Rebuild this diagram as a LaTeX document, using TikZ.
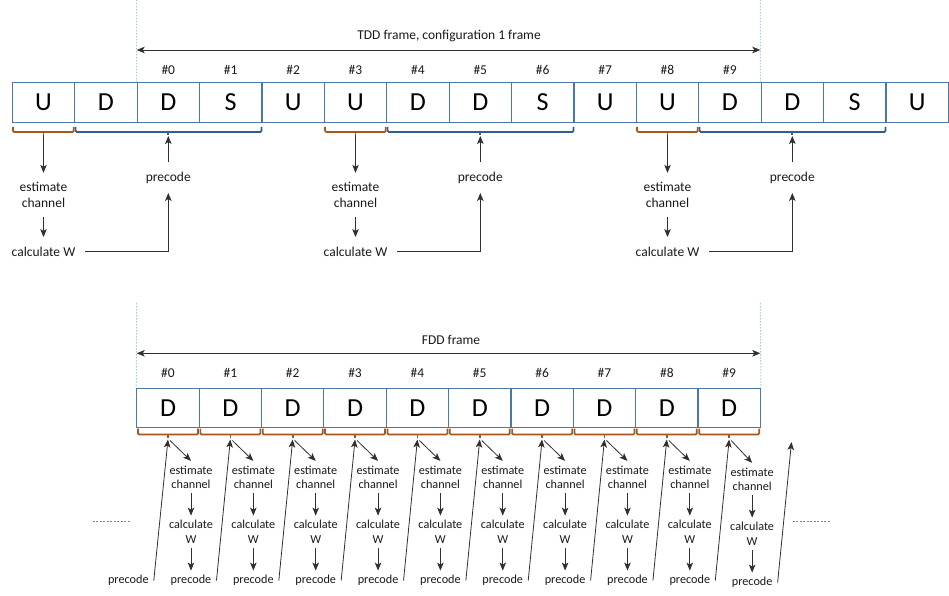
\documentclass[tikz,border=0pt]{standalone}
\usepackage{fontspec}
\setmainfont{Carlito}
\usetikzlibrary{arrows.meta}
\definecolor{boxblue}{HTML}{4A78A8}
\definecolor{brorange}{HTML}{A8561E}
\definecolor{brblue}{HTML}{2F5F8F}
\definecolor{dotblue}{HTML}{A9CBEA}
\definecolor{txt}{HTML}{1A1A1A}
\definecolor{arrgray}{HTML}{303030}
\tikzset{
  slot/.style={draw=boxblue, line width=1.2pt, fill=white, minimum width=62.4pt, minimum height=39.6pt, inner sep=0pt, text=black, font=\fontsize{26}{26}\selectfont},
  lbl/.style={font=\fontsize{13.5}{15.5}\selectfont, text=txt, align=center, inner xsep=10pt, inner ysep=9.5pt},
  slbl/.style={font=\fontsize{12.2}{14.3}\selectfont, text=txt, align=center, inner xsep=5pt, inner ysep=4.5pt},
  arr/.style={draw=arrgray, line width=0.8pt, -{Stealth[length=8pt,width=6.5pt,inset=2pt]}},
  darr/.style={draw=arrgray, line width=0.8pt, {Stealth[length=8pt,width=6.5pt,inset=2pt]}-{Stealth[length=8pt,width=6.5pt,inset=2pt]}},
  obr/.style={draw=brorange, line width=1.7pt, rounded corners=1.2pt},
  bbr/.style={draw=brblue, line width=1.7pt, rounded corners=1.2pt},
  vdot/.style={draw=dotblue, line width=1pt, dash pattern=on 1.5pt off 1.5pt},
  gdash/.style={draw=gray, line width=0.6pt, dash pattern=on 2pt off 1.5pt}
}
\begin{document}
\begin{tikzpicture}[x=1pt,y=-1pt]
\path[fill=white] (0,0) rectangle (949,596);
\useasboundingbox (0,0) rectangle (949,596);
% ---------------- TDD ----------------
\foreach \l [count=\i from 0] in {U,D,D,S,U,U,D,D,S,U,U,D,D,S,U}{
  \node[slot] (t\i) at ({43.5+62.4*\i},102.5) {\l};
}
\foreach \i in {0,...,9}{
  \node[lbl, inner sep=0pt] (tn\i) at ({43.5+62.4*(\i+2)},70) {\#\i};
}
\coordinate (tdl) at (136.7,50);
\coordinate (tdr) at (760.3,50);
\coordinate (tvl) at (136.7,0);
\coordinate (tvr) at (760.3,0);
\draw[vdot] (tvl) -- (t2.north west);
\draw[vdot] (tvr) -- (t12.north west);
\draw[darr] (tdl) -- (tdr);
\node[lbl, inner sep=0pt] (tddlabel) at (449,36) {TDD frame, configuration 1 frame};
\foreach \k in {0,1,2}{
  \pgfmathsetmacro{\off}{312*\k}
  \draw[obr] ({13+\off},127) -- ({13+\off},132) -- ({73.8+\off},132) -- ({73.8+\off},127);
  \draw[obr] ({43.5+\off},132) -- ({43.5+\off},135.5);
  \draw[bbr] ({75.6+\off},127) -- ({75.6+\off},132) -- ({261.5+\off},132) -- ({261.5+\off},127);
  \draw[bbr] ({168.3+\off},132) -- ({168.3+\off},135.5);
  \coordinate (oT\k) at ({43.5+\off},135);
  \coordinate (bT\k) at ({168.3+\off},136);
  \node[lbl] (est\k) at ({43.5+\off},195) {estimate\\channel};
  \node[lbl] (calc\k) at ({43.5+\off},251.5) {calculate W};
  \node[lbl] (prec\k) at ({168.3+\off},177.5) {precode};
  \draw[arr] (oT\k) -- (est\k);
  \draw[arr] (est\k) -- (calc\k);
  \draw[arr] (calc\k.east) -| (prec\k.south);
  \draw[arr] (prec\k) -- (bT\k);
}
% ---------------- FDD ----------------
\foreach \i in {0,...,9}{
  \node[slot, minimum width=62.35pt, minimum height=39.4pt] (b\i) at ({168+62.35*\i},408) {D};
  \node[lbl, inner sep=0pt] (bn\i) at ({168+62.35*\i},373) {\#\i};
}
\coordinate (fdl) at (136.7,353.3);
\coordinate (fdr) at (760.3,353.3);
\coordinate (fvl) at (136.7,303);
\coordinate (fvr) at (760.3,303);
\draw[vdot] (fvl) -- (b0.north west);
\draw[vdot] (fvr) -- (b9.north east);
\draw[darr] (fdl) -- (fdr);
\node[lbl, inner sep=0pt] (fddlabel) at (451,340) {FDD frame};
\node[slbl] (bpm) at (128.3,580.5) {precode};
\coordinate (bT10) at (791.5,442);
\foreach \i in {0,...,9}{
  \pgfmathsetmacro{\cx}{168+62.35*\i}
  \pgfmathsetmacro{\dy}{ifthenelse(\i==9,2,0)}
  \draw[obr] ({\cx-30},428.5) -- ({\cx-30},434.5) -- ({\cx+30},434.5) -- ({\cx+30},428.5);
  \draw[obr] (\cx,434.5) -- (\cx,438);
  \coordinate (bT\i) at (\cx,439.5);
  \coordinate (bS\i) at ({\cx+2},440.5);
  \node[slbl] (be\i) at ({\cx+23},{477+\dy}) {estimate\\channel};
  \node[slbl] (bc\i) at ({\cx+23},{531.7+\dy}) {calculate\\W};
  \node[slbl] (bp\i) at ({\cx+23},{580.5+\dy}) {precode};
  \draw[arr] (bS\i) -- (be\i.north);
  \draw[arr] (be\i) -- (bc\i);
  \draw[arr] (bc\i) -- (bp\i);
}
\draw[arr] (bpm.east) -- (bT0);
\foreach \i [evaluate=\i as \j using int(\i+1)] in {0,...,9}{
  \draw[arr] (bp\i.east) -- (bT\j);
}
\coordinate (dl1) at (92.7,521.7);
\coordinate (dl2) at (130.7,521.7);
\coordinate (dr1) at (792.7,521.7);
\coordinate (dr2) at (830,521.7);
\draw[gdash] (dl1) -- (dl2);
\draw[gdash] (dr1) -- (dr2);
\end{tikzpicture}
\end{document}
